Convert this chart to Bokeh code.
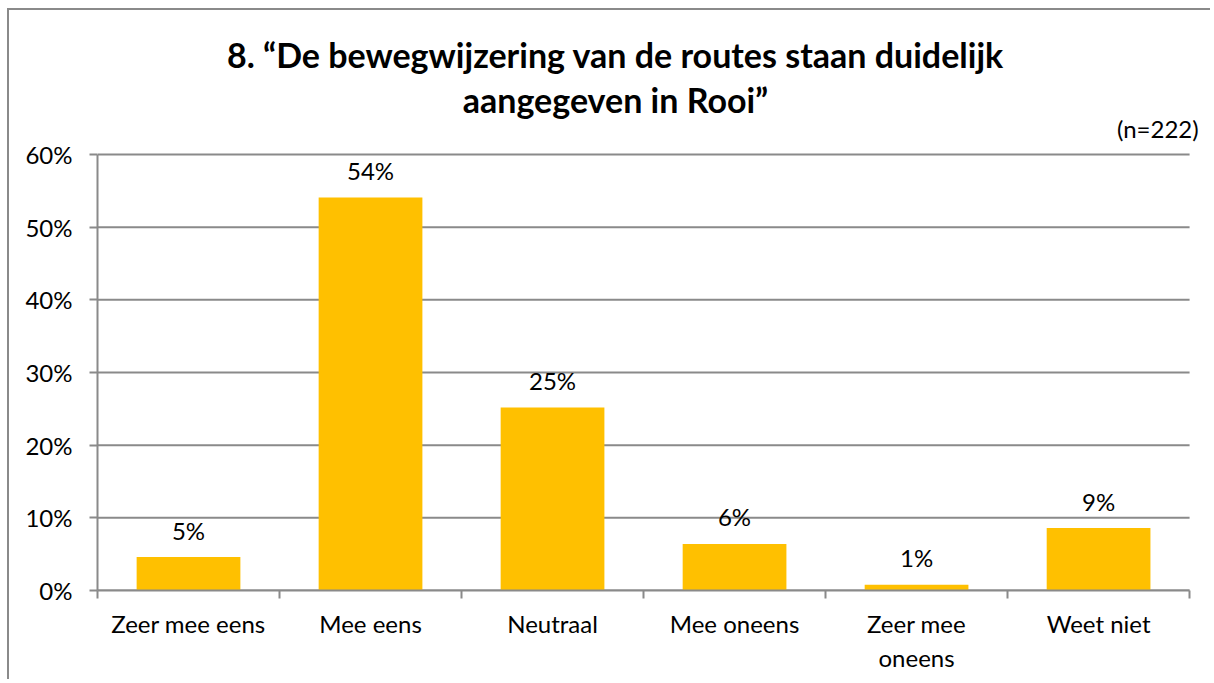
from bokeh.plotting import figure
from bokeh.models import (Range1d, FixedTicker, PrintfTickFormatter, CustomJSTickFormatter,
                          ColumnDataSource, LabelSet, Label)
from bokeh.core.properties import value
from bokeh.embed import file_html
from bokeh.resources import INLINE

# ---- data ----
categories = ["Zeer mee eens", "Mee eens", "Neutraal", "Mee oneens", "Zeer mee\noneens", "Weet niet"]
values = [4.6, 54.1, 25.2, 6.4, 0.8, 8.6]
y_ticks = [0, 10, 20, 30, 40, 50, 60]
title_lines = ["8. \u201cDe bewegwijzering van de routes staan duidelijk", "aangegeven in Rooi\u201d"]
note = "(n=222)"

FONT = "Lato"
GRAY = "#8a8a8a"
n = len(categories)
ymax = y_ticks[-1]

xs = [i + 0.5 for i in range(n)]
src = ColumnDataSource(dict(x=xs, top=values, label=[f"{round(v)}%" for v in values]))

# frame extended upward/rightward so that title and note live inside it
p = figure(width=1203, height=671, output_backend="svg", toolbar_location=None,
           x_range=Range1d(0, 6.093), y_range=Range1d(0, 79.82),
           min_border_left=88, min_border_right=6, min_border_top=0, min_border_bottom=91)
p.styles = {"border-left": "2px solid #8a8a8a", "border-top": "2px solid #8a8a8a",
            "margin-left": "7px", "margin-top": "8px"}
p.outline_line_color = None
p.background_fill_color = "white"
p.border_fill_color = "white"
p.grid.visible = False

# horizontal gridlines drawn over the category span only
p.segment(x0=[0] * len(y_ticks), x1=[n] * len(y_ticks), y0=y_ticks, y1=y_ticks,
          line_color=GRAY, line_width=2)

p.vbar(x="x", top="top", width=0.57, source=src, fill_color="#FFC000", line_color=None)

# y axis
ya = p.yaxis[0]
ya.bounds = (0, ymax)
ya.ticker = FixedTicker(ticks=y_ticks)
ya.formatter = PrintfTickFormatter(format="%d%%")
ya.axis_line_color = GRAY
ya.axis_line_width = 2
ya.major_tick_line_color = GRAY
ya.major_tick_line_width = 2
ya.major_tick_out = 8
ya.major_tick_in = 0
ya.minor_tick_line_color = None
ya.major_label_standoff = 17
ya.major_label_text_font = FONT
ya.major_label_text_font_size = "24px"
ya.major_label_text_color = "black"

# x axis
xa = p.xaxis[0]
xa.bounds = (0, n)
xa.ticker = FixedTicker(ticks=xs, minor_ticks=list(range(n + 1)))
xa.formatter = CustomJSTickFormatter(args=dict(labels=categories),
                                     code="return labels[Math.floor(tick)];")
xa.axis_line_color = GRAY
xa.axis_line_width = 2
xa.major_tick_line_color = None
xa.major_tick_out = 6
xa.minor_tick_line_color = GRAY
xa.minor_tick_line_width = 2
xa.minor_tick_out = 8
xa.minor_tick_in = 0
xa.major_label_standoff = 10
xa.major_label_text_font = FONT
xa.major_label_text_font_size = "24px"
xa.major_label_text_color = "black"
xa.major_label_text_line_height = 1.2

# value labels
p.add_layout(LabelSet(x="x", y="top", text="label", source=src, y_offset=27,
                      text_align="center", text_baseline="middle",
                      text_font=value(FONT), text_font_size=value("24px"), text_color="black"))

# title and note
p.add_layout(Label(x=2.846, y=73.75, text=title_lines[0],
                   text_align="center", text_baseline="middle", text_font=FONT,
                   text_font_size="34px", text_font_style="bold", text_color="black"))
p.add_layout(Label(x=2.846, y=67.55, text=title_lines[1],
                   text_align="center", text_baseline="middle", text_font=FONT,
                   text_font_size="34px", text_font_style="bold", text_color="black"))
p.add_layout(Label(x=6.05, y=63.6, text=note,
                   text_align="right", text_baseline="middle", text_font=FONT,
                   text_font_size="24px", text_color="black"))

open("out.html", "w").write(file_html(p, INLINE))
